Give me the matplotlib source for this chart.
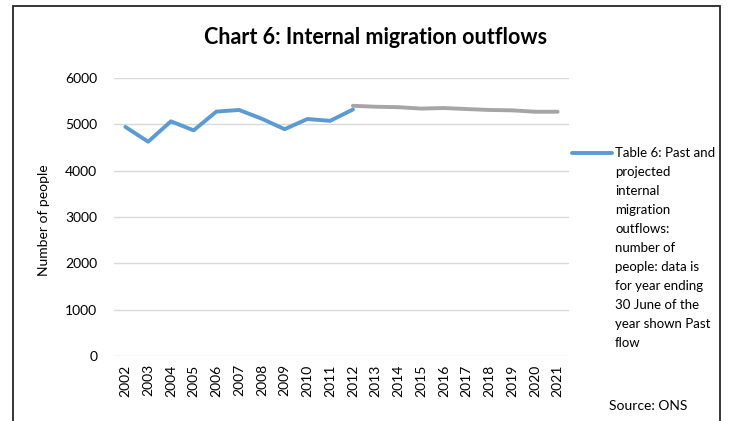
import matplotlib
matplotlib.use("Agg")
import matplotlib.pyplot as plt
from matplotlib.lines import Line2D
from matplotlib.patches import Rectangle

plt.rcParams["font.family"] = ["Lato", "DejaVu Sans"]

# Internal migration outflows, number of people (year ending 30 June)
years = [str(y) for y in range(2002, 2022)]
past_years = years[:11]
past_flow = [4945, 4625, 5065, 4870, 5275, 5310, 5120, 4895, 5115, 5075, 5320]
projected_years = years[10:]
projected_flow = [5400, 5380, 5370, 5340, 5352, 5330, 5310, 5302, 5272, 5272]
y_ticks = [0, 1000, 2000, 3000, 4000, 5000, 6000]

legend_text = ("Table 6: Past and\nprojected\ninternal\nmigration\noutflows:\n"
               "number of\npeople: data is\nfor year ending\n30 June of the\n"
               "year shown Past\nflow")

blue = "#5B9BD5"
grey = "#A5A5A5"

W, H = 729, 421
fig = plt.figure(figsize=(W / 100, H / 100), dpi=100)
ax = fig.add_axes([114 / W, 1 - 356 / H, 455 / W, 278 / H])

x_pos = {y: i for i, y in enumerate(years)}
ax.plot([x_pos[y] for y in past_years], past_flow, color=blue, lw=2.8,
        solid_capstyle="round", solid_joinstyle="round", zorder=3)
ax.plot([x_pos[y] for y in projected_years], projected_flow, color=grey, lw=2.8,
        solid_capstyle="round", solid_joinstyle="round", zorder=2)

ax.set_xlim(-0.5, len(years) - 0.5)
ax.set_ylim(0, 6000)
ax.set_xticks(range(len(years)))
ax.set_xticklabels(years, rotation=90, fontsize=10, color="#000000")
ax.set_yticks(y_ticks)
ax.set_yticklabels([str(v) for v in y_ticks], fontsize=10)
ax.tick_params(length=0, pad=6)
ax.tick_params(axis="y", pad=12)
ax.grid(axis="y", color="#D9D9D9", lw=1)
ax.set_axisbelow(True)
for s in ax.spines.values():
    s.set_visible(False)
ax.set_ylabel("Number of people", fontsize=10)
ax.yaxis.set_label_coords(-0.14, 0.49)

fig.text(376 / W, 1 - 38 / H, "Chart 6: Internal migration outflows",
         ha="center", va="center", fontsize=15.5, fontweight="bold")

# legend key sits beside the first line of the wrapped label
fig.add_artist(Line2D([572 / W, 612 / W], [1 - 153 / H, 1 - 153 / H],
                      transform=fig.transFigure, color=blue, lw=2.8,
                      solid_capstyle="round"))
fig.text(615 / W, 1 - 147 / H, legend_text, ha="left", va="top",
         fontsize=9.5, linespacing=1.7)

fig.text(609 / W, 1 - 406 / H, "Source: ONS", ha="left", va="center",
         fontsize=10)

# chart area border, running off the bottom edge
fig.add_artist(Rectangle((13 / W, -0.05), (720 - 13) / W, 1.05 - 6 / H,
                         transform=fig.transFigure, fill=False,
                         edgecolor="#262626", lw=1.3))

fig.savefig("out.png", dpi=100)
